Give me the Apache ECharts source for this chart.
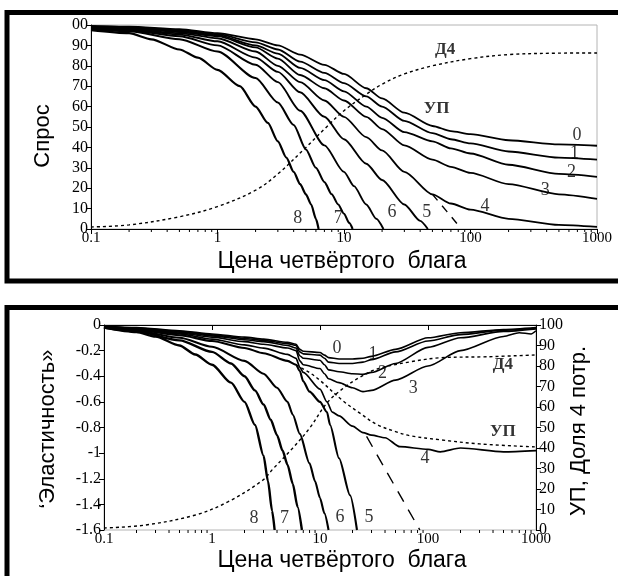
<!DOCTYPE html>
<html>
<head>
<meta charset="utf-8">
<script src="https://cdn.jsdelivr.net/npm/echarts@6/dist/echarts.min.js"></script>
<style>
    html, body { margin: 0; padding: 0; background: #fff; }
    #chart { width: 618px; height: 576px; }
</style>
</head>
<body>
<div id="chart"></div>
<script>
    // верхний график: спрос (0..100) от цены четвёртого блага
    var demand0 = [[0.1,99.6],[0.2,99.2],[0.5,98],[1,96],[2,93],[3,90],[4.5,85.5],[7,80.5],[10,76],[15,69],[20,64],[30,57],[50,50.5],[70,48],[100,46.5],[200,43.5],[500,41.5],[1000,40.8]];
    var demand1 = [[0.1,99.4],[0.2,99],[0.5,97.5],[1,95.5],[2,91.5],[3,88],[4.5,82],[7,76.5],[10,71.5],[15,65],[20,60],[30,53],[50,47],[70,44],[100,42],[200,38],[500,35],[1000,34]];
    var demand2 = [[0.1,99.2],[0.2,98.7],[0.5,97],[1,95],[2,90],[3,86],[4.5,79],[7,73],[10,67.5],[15,60],[20,54.5],[30,47.5],[50,43],[70,39.5],[100,37],[200,31.5],[500,27],[1000,25.6]];
    var demand3 = [[0.1,99],[0.2,98.4],[0.5,96.5],[1,94.5],[2,89],[3,83.5],[4.5,75.5],[7,69],[10,63],[15,55],[20,49],[30,41],[50,34],[70,30.5],[100,27.5],[200,22],[500,17],[1000,14.8]];
    var demand4 = [[0.1,98.8],[0.2,98],[0.5,96],[1,93.5],[2,87],[3,80],[4.5,72],[7,63],[10,55],[15,45],[20,38.5],[30,28],[50,17],[70,12.5],[100,9.5],[200,5],[500,2],[1000,1]];
    var demand5 = [[0.1,98.5],[0.2,97.7],[0.5,95.3],[1,92],[2,84],[3,77],[4.5,67],[7,55],[10,44],[15,32],[20,24],[30,12],[40,4],[46,0]];
    var demand6 = [[0.1,98.3],[0.2,97.4],[0.5,94.5],[1,90],[2,80.5],[3,72],[4.5,58],[7,41],[10,28],[12,21],[15,12],[18,5],[20.5,0]];
    var demand7 = [[0.1,98],[0.2,97],[0.5,93],[1,87],[2,74],[3,62],[4,51],[5,39],[6,30],[7,23],[8,17],[9,12],[10,7.5],[11,3],[11.7,0]];
    var demand8 = [[0.1,97.5],[0.2,96],[0.3,93],[0.5,88],[0.7,84],[1,78],[1.5,70],[2,60],[2.5,52],[3,43],[3.5,35],[4,28],[4.5,22],[5,17],[5.5,12],[6,5],[6.3,0]];
    var share4Top = [[0.1,1],[0.2,2],[0.5,6],[1,11],[2,19],[3,27],[5,40],[7,49],[10,58],[15,66],[20,71],[30,76],[50,80],[100,83.5],[200,85.5],[500,86.2],[1000,86.3]];
    var dashTop = [[50,17],[85,0]];

    // нижний график: эластичность (левая ось) и УП, доля 4 потр. (правая ось)
    var elast0 = [[0.1,-0.01],[0.2,-0.02],[0.5,-0.045],[1,-0.07],[2,-0.095],[3,-0.11],[5,-0.135],[6,-0.15],[6.5,-0.19],[7,-0.205],[10,-0.215],[11,-0.235],[12,-0.255],[15,-0.265],[20,-0.265],[25,-0.26],[30,-0.245],[50,-0.19],[100,-0.1],[200,-0.06],[500,-0.035],[1000,-0.02]];
    var elast1 = [[0.1,-0.012],[0.2,-0.024],[0.5,-0.05],[1,-0.077],[2,-0.105],[3,-0.12],[5,-0.145],[6,-0.16],[6.5,-0.21],[7,-0.225],[10,-0.235],[11,-0.26],[12,-0.29],[15,-0.3],[20,-0.3],[25,-0.29],[30,-0.27],[50,-0.21],[100,-0.125],[200,-0.075],[500,-0.04],[1000,-0.025]];
    var elast2 = [[0.1,-0.013],[0.2,-0.027],[0.5,-0.056],[1,-0.085],[2,-0.115],[3,-0.13],[5,-0.16],[6,-0.18],[6.5,-0.24],[7,-0.26],[10,-0.275],[11,-0.31],[12,-0.35],[15,-0.365],[20,-0.38],[25,-0.385],[30,-0.37],[50,-0.3],[100,-0.175],[200,-0.1],[500,-0.05],[1000,-0.03]];
    var elast3 = [[0.1,-0.015],[0.2,-0.03],[0.5,-0.062],[1,-0.095],[2,-0.13],[3,-0.15],[5,-0.18],[6,-0.2],[6.5,-0.28],[7,-0.31],[10,-0.34],[11,-0.38],[12,-0.42],[15,-0.45],[20,-0.49],[25,-0.52],[30,-0.51],[50,-0.43],[100,-0.32],[200,-0.2],[500,-0.09],[700,-0.06],[900,-0.07],[1000,-0.045]];
    var elast4 = [[0.1,-0.016],[0.2,-0.034],[0.5,-0.07],[1,-0.11],[2,-0.155],[3,-0.18],[5,-0.23],[6,-0.26],[6.5,-0.33],[7,-0.37],[10,-0.5],[11.6,-0.6],[13,-0.68],[15,-0.71],[20,-0.79],[25,-0.84],[30,-0.86],[40,-0.88],[55,-0.95],[100,-0.97],[130,-0.99],[200,-0.96],[500,-0.99],[1000,-0.98]];
    var elast5 = [[0.1,-0.017],[0.2,-0.038],[0.5,-0.08],[1,-0.125],[2,-0.18],[3,-0.22],[5,-0.28],[6,-0.31],[6.5,-0.36],[7,-0.44],[8,-0.52],[10,-0.6],[11.6,-0.68],[12.4,-0.78],[15,-1.04],[19,-1.33],[22,-1.6]];
    var elast6 = [[0.1,-0.018],[0.2,-0.045],[0.5,-0.1],[1,-0.17],[2,-0.28],[3,-0.38],[4,-0.49],[5,-0.6],[5.6,-0.7],[6.5,-0.85],[8,-1.08],[9,-1.22],[10,-1.35],[11,-1.47],[12,-1.6]];
    var elast7 = [[0.1,-0.02],[0.2,-0.05],[0.5,-0.12],[1,-0.21],[1.5,-0.3],[2,-0.4],[2.5,-0.51],[3,-0.62],[3.5,-0.74],[4,-0.86],[4.5,-0.98],[5,-1.09],[5.6,-1.24],[6.2,-1.42],[6.8,-1.6]];
    var elast8 = [[0.1,-0.02],[0.2,-0.055],[0.3,-0.09],[0.5,-0.16],[0.7,-0.23],[1,-0.31],[1.5,-0.45],[2,-0.6],[2.5,-0.78],[3,-1.02],[3.3,-1.22],[3.6,-1.45],[3.8,-1.6]];
    var share4Bottom = [[0.1,1],[0.24,2.4],[0.7,7.3],[1.4,13.7],[2.9,24],[3.7,30],[5.6,40],[8.1,50],[11.6,62],[16.3,69],[23.4,74.5],[33.5,78.5],[68,82],[130,84],[350,84.5],[1000,85.4]];
    var utilBottom = [[6,80.5],[8.1,76.6],[10,73],[16.3,63],[23.4,57],[33.5,51.5],[50,48],[68,46],[130,44],[300,42],[1000,40.5]];
    var dashBottom = [[27,-0.87],[84,-1.6]];

    // подписи кривых (в координатах данных)
    var topLabels = [['0',695,46],['1',665,37],['2',630,28],['3',390,19],['4',130,11],['5',45,8],['6',24,8],['7',9,5.5],['8',4.3,5.5]];
    var topNames = [['Д4',63,88],['УП',54,59]];
    var bottomLabels = [['0',14.4,-0.18],['1',31,-0.23],['2',38,-0.38],['3',73,-0.49],['4',94,-1.04],['5',28.5,-1.5],['6',15.3,-1.5],['7',4.7,-1.51],['8',2.45,-1.51]];
    var bottomNames = [['Д4',494,-0.31],['УП',494,-0.835]];

    var minorTicks = [];
    [0.1, 1, 10, 100].forEach(function (d) {
        for (var k = 2; k <= 9; k++) minorTicks.push(+(d * k).toPrecision(3));
    });

    var serif = 'Liberation Serif';
    var sans = 'Liberation Sans';

    function line(data, xi, yi, width) {
        return {
            type: 'line', xAxisIndex: xi, yAxisIndex: yi, data: data,
            showSymbol: false, smooth: 0.25, smoothMonotone: 'x', silent: true,
            lineStyle: {color: '#000', width: width}
        };
    }

    // пунктирные кривые (Д4, УП) и штриховые продолжения
    function dotted(data, xi, yi, dash) {
        return {
            type: 'line', xAxisIndex: xi, yAxisIndex: yi, data: data,
            showSymbol: false, smooth: 0.35, silent: true,
            lineStyle: {color: '#000', width: 1.4, type: dash, cap: 'butt'}
        };
    }

    function labels(list, xi, yi, size, weight) {
        return {
            type: 'scatter', xAxisIndex: xi, yAxisIndex: yi, symbolSize: 0, silent: true,
            data: list.map(function (l) { return {name: l[0], value: [l[1], l[2]]}; }),
            label: {
                show: true, position: 'inside', formatter: '{b}', color: '#000',
                fontFamily: serif, fontSize: size, fontWeight: weight || 'normal'
            }
        };
    }

    function ticks(xi, yi, yBase) {
        return {
            type: 'custom', xAxisIndex: xi, yAxisIndex: yi, silent: true, clip: false,
            data: minorTicks.map(function (t) { return [t, yBase]; }),
            renderItem: function (params, api) {
                var p = api.coord([api.value(0), api.value(1)]);
                return {
                    type: 'line',
                    shape: {x1: p[0], y1: p[1], x2: p[0], y2: p[1] + 3},
                    style: {stroke: '#000', lineWidth: 1}
                };
            }
        };
    }

    var xAxisBase = {
        type: 'log', logBase: 10, min: 0.1, max: 1000,
        axisLine: {lineStyle: {color: '#000', width: 1}},
        axisTick: {length: 5, lineStyle: {color: '#000'}},
        axisLabel: {
            color: '#000', fontFamily: serif, fontSize: 15, margin: 2,
            formatter: function (v) { return v < 1 ? v.toFixed(1) : String(Math.round(v)); }
        },
        splitLine: {show: false}
    };

    var yAxisBase = {
        type: 'value',
        axisLine: {show: true, lineStyle: {color: '#000', width: 1}},
        axisTick: {show: true, length: 5, lineStyle: {color: '#000'}},
        axisLabel: {color: '#000', fontFamily: serif, fontSize: 16, margin: 3},
        splitLine: {show: false}
    };

    var myChart = echarts.init(document.getElementById('chart'), null, {renderer: 'canvas'});

    var option = {
        backgroundColor: '#fff',
        animation: false,
        grid: [
            {left: 91, top: 25, width: 506, height: 204, show: true, borderColor: '#b4b4b4', borderWidth: 1},
            {left: 104, top: 325, width: 432, height: 205, show: true, borderColor: '#b4b4b4', borderWidth: 1}
        ],
        xAxis: [
            Object.assign({}, xAxisBase, {gridIndex: 0}),
            Object.assign({}, xAxisBase, {gridIndex: 1})
        ],
        yAxis: [
            Object.assign({}, yAxisBase, {
                gridIndex: 0, min: 0, max: 100, interval: 10,
                axisLabel: Object.assign({}, yAxisBase.axisLabel, {
                    formatter: function (v) { return v === 100 ? '00' : v; }
                })
            }),
            Object.assign({}, yAxisBase, {gridIndex: 1, min: -1.6, max: 0, interval: 0.2}),
            Object.assign({}, yAxisBase, {gridIndex: 1, position: 'right', min: 0, max: 100, interval: 10})
        ],
        graphic: [
            {type: 'rect', shape: {x: 7, y: 12.5, width: 700, height: 268.5}, style: {fill: 'none', stroke: '#000', lineWidth: 5}, z: 100},
            {type: 'rect', shape: {x: 7, y: 307.5, width: 700, height: 400}, style: {fill: 'none', stroke: '#000', lineWidth: 5}, z: 100},
            {type: 'text', x: 43, y: 136, rotation: Math.PI / 2, style: {text: 'Спрос', font: '22px ' + sans, fill: '#000', align: 'center', verticalAlign: 'middle'}},
            {type: 'text', x: 342, y: 262, style: {text: 'Цена четвёртого  блага', font: '23px ' + sans, fill: '#000', align: 'center', verticalAlign: 'middle'}},
            {type: 'text', x: 48, y: 429, rotation: Math.PI / 2, style: {text: '‘Эластичность»', font: '22px ' + sans, fill: '#000', align: 'center', verticalAlign: 'middle'}},
            {type: 'text', x: 579, y: 431, rotation: Math.PI / 2, style: {text: 'УП, Доля 4 потр.', font: '22px ' + sans, fill: '#000', align: 'center', verticalAlign: 'middle'}},
            {type: 'text', x: 342, y: 561, style: {text: 'Цена четвёртого  блага', font: '23px ' + sans, fill: '#000', align: 'center', verticalAlign: 'middle'}}
        ],
        series: [
            line(demand0, 0, 0, 1.8),
            line(demand1, 0, 0, 1.8),
            line(demand2, 0, 0, 1.8),
            line(demand3, 0, 0, 1.8),
            line(demand4, 0, 0, 1.8),
            line(demand5, 0, 0, 1.9),
            line(demand6, 0, 0, 1.9),
            line(demand7, 0, 0, 2.1),
            line(demand8, 0, 0, 2.2),
            dotted(share4Top, 0, 0, [3, 3]),
            dotted(dashTop, 0, 0, [8, 7]),
            labels(topLabels, 0, 0, 18),
            labels(topNames, 0, 0, 17, 'bold'),
            ticks(0, 0, 0),

            line(elast0, 1, 1, 1.6),
            line(elast1, 1, 1, 1.6),
            line(elast2, 1, 1, 1.6),
            line(elast3, 1, 1, 1.6),
            line(elast4, 1, 1, 1.7),
            line(elast5, 1, 1, 2.1),
            line(elast6, 1, 1, 2.1),
            line(elast7, 1, 1, 2.4),
            line(elast8, 1, 1, 2.4),
            dotted(share4Bottom, 1, 2, [3, 3]),
            dotted(utilBottom, 1, 2, [3, 3]),
            dotted(dashBottom, 1, 1, [12, 9]),
            labels(bottomLabels, 1, 1, 18),
            labels(bottomNames, 1, 1, 17, 'bold'),
            ticks(1, 1, -1.6)
        ]
    };

    myChart.setOption(option);
</script>
</body>
</html>
